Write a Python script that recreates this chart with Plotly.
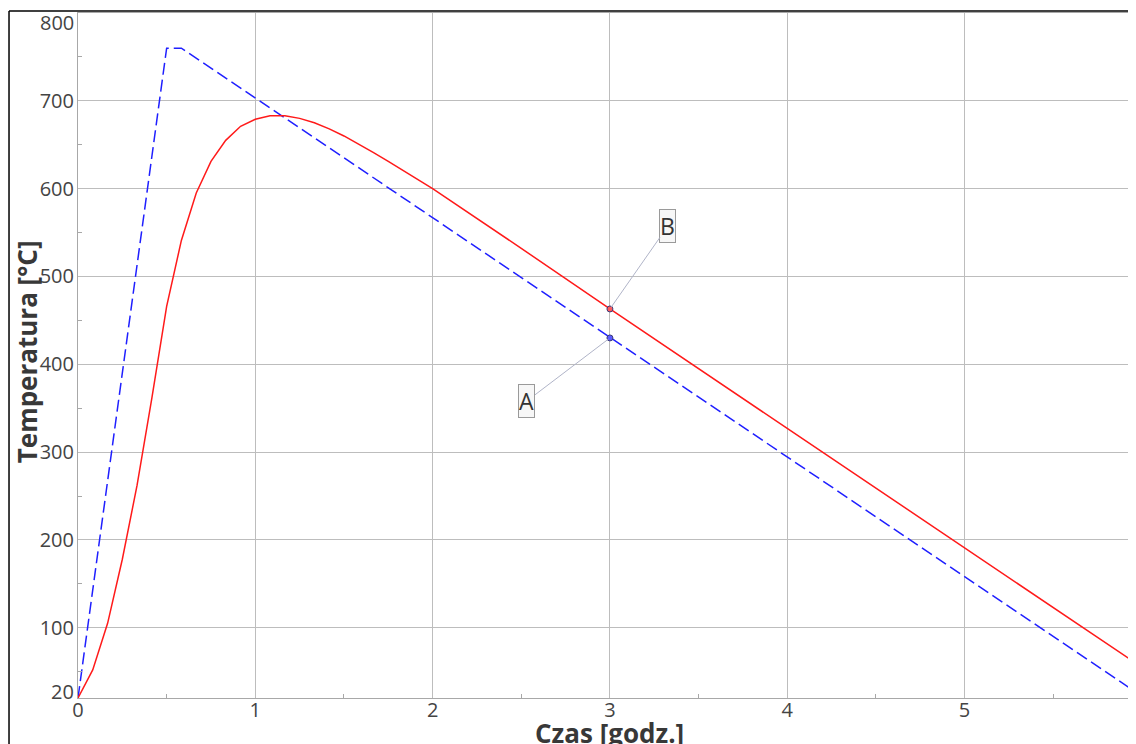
import plotly.graph_objects as go

# ---- data ----
red_t = [0, 0.083, 0.167, 0.25, 0.333, 0.417, 0.5, 0.583, 0.667, 0.75, 0.833, 0.917,
         1.0, 1.083, 1.167, 1.25, 1.333, 1.417, 1.5, 1.583, 1.667, 1.75, 2.0, 2.5,
         3.0, 4.0, 5.0, 6.0]
red_T = [20, 52, 105, 178, 262, 362, 466, 541, 595, 631, 655, 671,
         679, 683, 683, 680, 675, 668, 660, 651, 641, 631, 600, 532,
         463, 327, 191, 55]

blue_t = [0, 0.5, 0.583, 6.0]
blue_T = [20, 760, 760, 22]

point_labels = ["A", "B"]
point_t = [3.0, 3.0]
point_T = [430, 463]

x_ticks = [0, 1, 2, 3, 4, 5, 6]
x_minor = [0.5, 1.5, 2.5, 3.5, 4.5, 5.5]
y_ticks = [20, 100, 200, 300, 400, 500, 600, 700, 800]
y_minor = [50, 150, 250, 350, 450, 550, 650, 750]

x_title = "Czas [godz.]"
y_title = "Temperatura [°C]"

X_MAX_SHOWN = 5.967
TICK_FONT = dict(family="Open Sans", size=20, color="#444444")

# ---- figure ----
fig = go.Figure()
fig.add_trace(go.Scatter(x=blue_t, y=blue_T, mode="lines",
                         line=dict(color="#1f1fff", width=1.5, dash="12px,5px"),
                         hoverinfo="skip"))
fig.add_trace(go.Scatter(x=red_t, y=red_T, mode="lines",
                         line=dict(color="#ff1a1a", width=1.5),
                         hoverinfo="skip"))
fig.add_trace(go.Scatter(x=point_t, y=point_T, mode="markers",
                         marker=dict(size=6, color=["#5a5aff", "#ff5a5a"],
                                     line=dict(color="#3a3a7a", width=1)),
                         hoverinfo="skip"))

label_offsets = [(-83, 63), (58, -83)]
for lab, t, T, (ax, ay) in zip(point_labels, point_t, point_T, label_offsets):
    fig.add_annotation(x=t, y=T, xref="x", yref="y", text=lab, showarrow=True,
                       arrowhead=0, arrowwidth=1, arrowcolor="#b0b4c8",
                       ax=ax, ay=ay, font=dict(family="Open Sans", size=23, color="#333333"),
                       bordercolor="#9a9a9a", borderwidth=1, borderpad=0,
                       bgcolor="#f7f7f7", standoff=2)

# axis titles
fig.add_annotation(text=x_title, xref="paper", yref="paper", x=0.502, y=-0.051,
                   xanchor="center", yanchor="middle", showarrow=False,
                   font=dict(family="Open Sans", size=26, color="#383838", weight="bold"))
fig.add_annotation(text=y_title, xref="paper", yref="paper", x=-0.048, y=0.505,
                   xanchor="center", yanchor="middle", showarrow=False, textangle=-90,
                   font=dict(family="Open Sans", size=26, color="#383838", weight="bold"))

# edge tick labels (drawn nudged inward, as in the reference)
fig.add_annotation(text=str(x_ticks[-1]), xref="paper", yref="paper",
                   x=x_ticks[-1] / X_MAX_SHOWN, y=0, yshift=-3, xanchor="center", yanchor="top",
                   showarrow=False, font=TICK_FONT)
fig.add_annotation(text=str(y_ticks[-1]), xref="paper", yref="y", x=0, y=y_ticks[-1],
                   xanchor="right", yanchor="middle", xshift=-2, yshift=-9,
                   showarrow=False, font=TICK_FONT)
fig.add_annotation(text=str(y_ticks[0]), xref="paper", yref="y", x=0, y=y_ticks[0],
                   xanchor="right", yanchor="middle", xshift=-2, yshift=7,
                   showarrow=False, font=TICK_FONT)

# outer frame lines
fig.add_shape(type="line", xref="paper", yref="paper", x0=-0.0652, x1=-0.0652,
              y0=1.0029, y1=-0.08, line=dict(color="#000000", width=1.5))
fig.add_shape(type="line", xref="paper", yref="paper", x0=-0.0652, x1=1.01,
              y0=1.0029, y1=1.0029, line=dict(color="#000000", width=1.5))

y_text = ["" if v in (y_ticks[0], y_ticks[-1]) else str(v) for v in y_ticks]

fig.update_xaxes(range=[0, X_MAX_SHOWN], tickmode="array", tickvals=x_ticks,
                 ticktext=[str(v) for v in x_ticks],
                 showgrid=True, gridcolor="#bdbdbd", gridwidth=1,
                 showline=True, linecolor="#a8a8a8", linewidth=1, mirror=True,
                 zeroline=False, ticks="", ticklabelstandoff=-6, ticklabeloverflow="allow",
                 tickfont=TICK_FONT,
                 minor=dict(tickmode="array", tickvals=x_minor, ticks="inside",
                            ticklen=4, tickcolor="#a8a8a8", showgrid=False))
fig.update_yaxes(range=[20, 800], tickmode="array", tickvals=y_ticks,
                 ticktext=y_text,
                 showgrid=True, gridcolor="#bdbdbd", gridwidth=1,
                 showline=True, linecolor="#a8a8a8", linewidth=1, mirror=True,
                 zeroline=False, ticks="", ticklabelstandoff=-1, ticklabeloverflow="allow",
                 tickfont=TICK_FONT,
                 minor=dict(tickmode="array", tickvals=y_minor, ticks="inside",
                            ticklen=4, tickcolor="#a8a8a8", showgrid=False))

# page body has an 8px margin: figure is sized so it fills the window exactly
fig.update_layout(width=1128, height=736, showlegend=False,
                  margin=dict(l=70, r=0, t=5, b=46, autoexpand=False),
                  plot_bgcolor="white", paper_bgcolor="white")

fig.write_html("out.html")
